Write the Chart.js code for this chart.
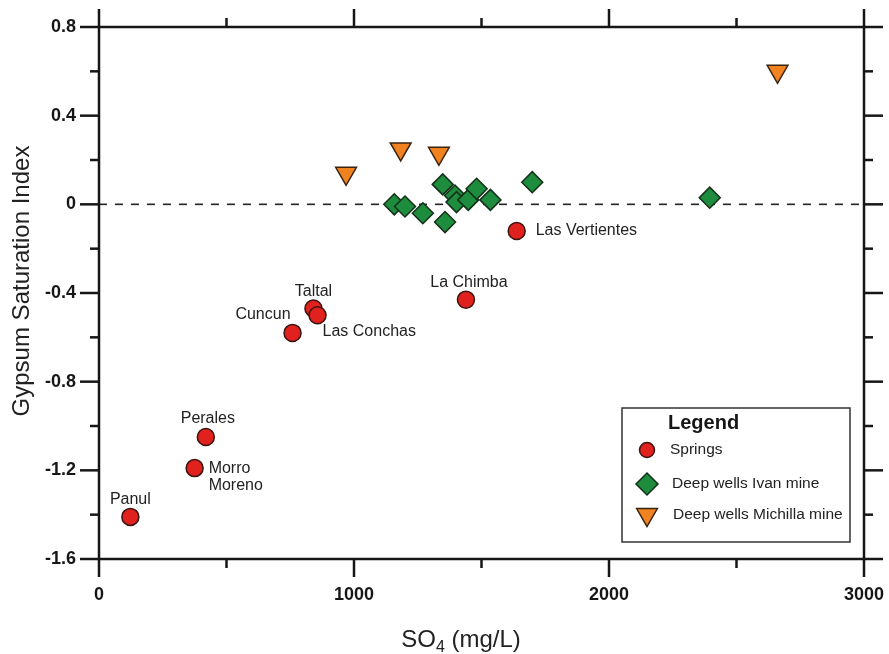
<!DOCTYPE html>
<html>
<head>
<meta charset="utf-8">
<script src="https://cdn.jsdelivr.net/npm/chart.js@4/dist/chart.umd.min.js"></script>
<style>
  html, body { margin: 0; padding: 0; background: #fff; }
  canvas { display: block; }
</style>
</head>
<body>
<canvas id="gypsumChart" width="889" height="654"></canvas>
<script>
// Datos
const springNames = ['Panul', 'Perales', 'Morro\nMoreno', 'Cuncun', 'Taltal', 'Las Conchas', 'La Chimba', 'Las Vertientes'];
const springSO4 = [123, 419, 375, 759, 841, 857, 1439, 1638];
const springSI = [-1.41, -1.05, -1.19, -0.58, -0.47, -0.50, -0.43, -0.12];

const ivanSO4 = [1158, 1200, 1270, 1348, 1357, 1396, 1402, 1448, 1481, 1535, 1699, 2395];
const ivanSI = [0.00, -0.01, -0.04, 0.09, -0.08, 0.04, 0.01, 0.02, 0.07, 0.02, 0.10, 0.03];

const michillaSO4 = [969, 1183, 1333, 2661];
const michillaSI = [0.14, 0.25, 0.23, 0.60];

const zeroLineX = [0, 3000];
const zeroLineY = [0, 0];

const xMajorTicks = [0, 1000, 2000, 3000];
const xMinorTicks = [500, 1500, 2500];
const yMajorTicks = [-1.6, -1.2, -0.8, -0.4, 0, 0.4, 0.8];
const yMinorTicks = [-1.4, -1.0, -0.6, -0.2, 0.2, 0.6];

const seriesNames = ['Springs', 'Deep wells Ivan mine', 'Deep wells Michilla mine'];

// Posición de las etiquetas de los manantiales (desplazamiento en px)
const labelPlacement = [
    { dx: 0, dy: -17, align: 'center' },
    { dx: 2, dy: -18, align: 'center' },
    { dx: 14, dy: 0, align: 'left' },
    { dx: -2, dy: -18, align: 'right' },
    { dx: 0, dy: -17, align: 'center' },
    { dx: 5, dy: 16, align: 'left' },
    { dx: 3, dy: -17, align: 'center' },
    { dx: 19, dy: 0, align: 'left' }
];

const toPoints = (xs, ys) => xs.map((v, i) => ({ x: v, y: ys[i] }));

const FONT = "'Liberation Sans', Arial, Helvetica, sans-serif";
const INK = '#161616';

Chart.defaults.font.family = FONT;
Chart.defaults.color = INK;

// Marco con marcas hacia afuera en los cuatro lados
const frameTicks = {
    id: 'frameTicks',
    afterDraw(chart) {
        const { ctx, chartArea: a, scales: { x, y } } = chart;
        ctx.save();
        ctx.strokeStyle = INK;
        ctx.lineWidth = 2.5;
        ctx.strokeRect(a.left, a.top, a.right - a.left, a.bottom - a.top);
        const seg = (x1, y1, x2, y2) => {
            ctx.beginPath();
            ctx.moveTo(x1, y1);
            ctx.lineTo(x2, y2);
            ctx.stroke();
        };
        const drawX = (vals, len) => vals.forEach(v => {
            const px = x.getPixelForValue(v);
            seg(px, a.bottom, px, a.bottom + len);
            seg(px, a.top, px, a.top - len);
        });
        const drawY = (vals, len) => vals.forEach(v => {
            const py = y.getPixelForValue(v);
            seg(a.left, py, a.left - len, py);
            seg(a.right, py, a.right + len, py);
        });
        drawX(xMajorTicks, 18);
        drawX(xMinorTicks, 9);
        drawY(yMajorTicks, 19);
        drawY(yMinorTicks, 9);
        ctx.restore();
    }
};

// Títulos de ejes (con subíndice en SO4)
const axisTitles = {
    id: 'axisTitles',
    afterDraw(chart) {
        const ctx = chart.ctx;
        ctx.save();
        ctx.fillStyle = '#222';
        ctx.textBaseline = 'alphabetic';

        ctx.font = '24px ' + FONT;
        ctx.save();
        ctx.translate(29, 281);
        ctx.rotate(-Math.PI / 2);
        ctx.textAlign = 'center';
        ctx.fillText('Gypsum Saturation Index', 0, 0);
        ctx.restore();

        const big = '24px ' + FONT;
        const small = '16px ' + FONT;
        ctx.textAlign = 'left';
        ctx.font = big;
        const w1 = ctx.measureText('SO').width;
        const w3 = ctx.measureText(' (mg/L)').width;
        ctx.font = small;
        const w2 = ctx.measureText('4').width;
        let x0 = 461 - (w1 + w2 + w3) / 2;
        const base = 647;
        ctx.font = big;
        ctx.fillText('SO', x0, base);
        ctx.font = small;
        ctx.fillText('4', x0 + w1, base + 5);
        ctx.font = big;
        ctx.fillText(' (mg/L)', x0 + w1 + w2, base);
        ctx.restore();
    }
};

// Nombres de los manantiales junto a cada punto
const springLabels = {
    id: 'springLabels',
    afterDatasetsDraw(chart) {
        const ctx = chart.ctx;
        const meta = chart.getDatasetMeta(1);
        ctx.save();
        ctx.font = '16px ' + FONT;
        ctx.fillStyle = '#222';
        ctx.textBaseline = 'middle';
        meta.data.forEach((pt, i) => {
            const p = labelPlacement[i];
            ctx.textAlign = p.align;
            springNames[i].split('\n').forEach((line, k) => {
                ctx.fillText(line, pt.x + p.dx, pt.y + p.dy + k * 17);
            });
        });
        ctx.restore();
    }
};

// Leyenda con recuadro dentro del área del gráfico
const boxedLegend = {
    id: 'boxedLegend',
    afterDraw(chart) {
        const ctx = chart.ctx;
        ctx.save();
        ctx.strokeStyle = '#333';
        ctx.lineWidth = 1.5;
        ctx.fillStyle = '#fff';
        ctx.fillRect(622, 408, 228, 134);
        ctx.strokeRect(622, 408, 228, 134);

        ctx.fillStyle = INK;
        ctx.font = 'bold 20px ' + FONT;
        ctx.textBaseline = 'alphabetic';
        ctx.textAlign = 'left';
        ctx.fillText('Legend', 668, 429);

        const rows = [
            { ds: 1, y: 450, tx: 670, radius: 7.5 },
            { ds: 2, y: 484, tx: 672, radius: 11 },
            { ds: 3, y: 514.5, tx: 673, radius: 12 }
        ];
        rows.forEach((r, i) => {
            const d = chart.data.datasets[r.ds];
            ctx.fillStyle = d.backgroundColor;
            ctx.strokeStyle = d.borderColor;
            ctx.lineWidth = d.borderWidth;
            Chart.helpers.drawPoint(ctx, {
                pointStyle: d.pointStyle,
                radius: r.radius,
                rotation: d.rotation || 0,
                borderWidth: d.borderWidth
            }, 647, r.y);
            ctx.fillStyle = '#222';
            ctx.font = '15.5px ' + FONT;
            ctx.textBaseline = 'middle';
            ctx.fillText(seriesNames[i], r.tx, r.y);
        });
        ctx.restore();
    }
};

const ctx = document.getElementById('gypsumChart');

new Chart(ctx, {
    type: 'scatter',
    data: {
        datasets: [
            {
                type: 'line',
                label: 'SI = 0',
                data: toPoints(zeroLineX, zeroLineY),
                borderColor: '#222',
                borderWidth: 1.6,
                borderDash: [8, 8],
                pointRadius: 0,
                fill: false,
                order: 10
            },
            {
                label: seriesNames[0],
                data: toPoints(springSO4, springSI),
                pointStyle: 'circle',
                pointRadius: 8.5,
                backgroundColor: '#e0211d',
                borderColor: '#3a1410',
                borderWidth: 1.5,
                order: 1
            },
            {
                label: seriesNames[1],
                data: toPoints(ivanSO4, ivanSI),
                pointStyle: 'rectRot',
                pointRadius: 10.5,
                backgroundColor: '#1d8c3d',
                borderColor: '#15301a',
                borderWidth: 1.5,
                order: 2
            },
            {
                label: seriesNames[2],
                data: toPoints(michillaSO4, michillaSI),
                pointStyle: 'triangle',
                rotation: 180,
                pointRotation: 180,
                pointRadius: 12,
                backgroundColor: '#f0831f',
                borderColor: '#3a2410',
                borderWidth: 1.5,
                order: 3
            }
        ]
    },
    options: {
        responsive: false,
        animation: false,
        events: [],
        layout: {
            padding: { top: 27, right: 25, bottom: 0, left: 0 }
        },
        plugins: {
            legend: { display: false },
            tooltip: { enabled: false }
        },
        scales: {
            x: {
                type: 'linear',
                min: 0,
                max: 3000,
                grid: { display: false },
                border: { display: false },
                afterBuildTicks: s => { s.ticks = xMajorTicks.map(v => ({ value: v })); },
                afterFit: s => {
                    s.height = 95;
                    s.paddingLeft = 0;
                    s.paddingRight = 0;
                },
                ticks: {
                    padding: 17,
                    color: INK,
                    font: { size: 18, weight: 'bold' },
                    maxRotation: 0,
                    callback: v => String(v)
                }
            },
            y: {
                type: 'linear',
                min: -1.6,
                max: 0.8,
                grid: { display: false },
                border: { display: false },
                afterBuildTicks: s => { s.ticks = yMajorTicks.map(v => ({ value: v })); },
                afterFit: s => {
                    s.width = 99;
                    s.paddingTop = 0;
                    s.paddingBottom = 0;
                },
                ticks: {
                    padding: 15,
                    color: INK,
                    font: { size: 18, weight: 'bold' },
                    callback: v => (v === 0 ? '0' : Number(v).toFixed(1))
                }
            }
        }
    },
    plugins: [springLabels, frameTicks, axisTitles, boxedLegend]
});
</script>
</body>
</html>
